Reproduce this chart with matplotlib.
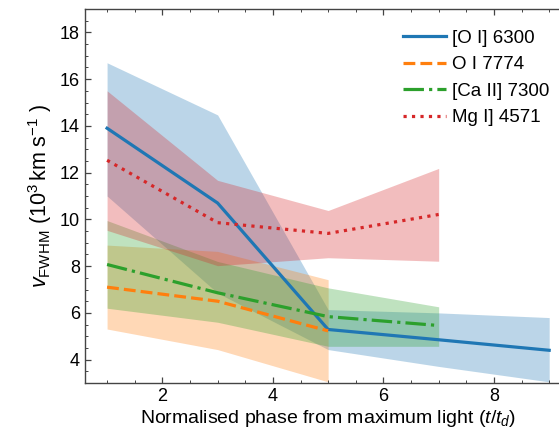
import matplotlib
matplotlib.use("Agg")
import matplotlib.pyplot as plt
from matplotlib.ticker import MultipleLocator

plt.rcParams["font.family"] = ["Liberation Sans", "DejaVu Sans"]
plt.rcParams["mathtext.fontset"] = "custom"
plt.rcParams["mathtext.rm"] = "Liberation Sans"
plt.rcParams["mathtext.it"] = "Liberation Sans:italic"
plt.rcParams["mathtext.bf"] = "Liberation Sans:bold"

# Line widths (10^3 km/s) versus normalised phase, with upper/lower envelopes
oi6300_x = [1, 3, 5, 7, 9]
oi6300_v = [13.9, 10.7, 5.29, 4.85, 4.4]
oi6300_hi = [16.7, 14.47, 6.14, 6.0, 5.8]
oi6300_lo = [11.0, 6.85, 4.43, 3.71, 3.05]

oi7774_x = [1, 3, 5]
oi7774_v = [7.1, 6.5, 5.23]
oi7774_hi = [8.9, 8.63, 7.42]
oi7774_lo = [5.31, 4.43, 3.05]

caii_x = [1, 3, 5, 7]
caii_v = [8.07, 6.86, 5.84, 5.46]
caii_hi = [9.95, 8.2, 7.07, 6.26]
caii_lo = [6.2, 5.6, 4.57, 4.57]

mgi_x = [1, 3, 5, 7]
mgi_v = [12.53, 9.86, 9.4, 10.21]
mgi_hi = [15.5, 11.67, 10.38, 12.18]
mgi_lo = [9.53, 8.02, 8.36, 8.21]

series = [
    ("[O I] 6300", oi6300_x, oi6300_v, oi6300_lo, oi6300_hi, "tab:blue", "-"),
    ("O I 7774", oi7774_x, oi7774_v, oi7774_lo, oi7774_hi, "tab:orange", "--"),
    ("[Ca II] 7300", caii_x, caii_v, caii_lo, caii_hi, "tab:green", "-."),
    ("Mg I] 4571", mgi_x, mgi_v, mgi_lo, mgi_hi, "tab:red", ":"),
]

fig = plt.figure(figsize=(5.59, 4.29), dpi=100)
ax = fig.add_axes([0.152, 0.1072, 0.870, 0.8718])

for label, x, v, lo, hi, color, ls in series:
    ax.fill_between(x, lo, hi, color=color, alpha=0.3, linewidth=0)
for label, x, v, lo, hi, color, ls in series:
    ax.plot(x, v, color=color, linestyle=ls, linewidth=2.3, label=label)

ax.set_xlim(0.6, 9.4)
ax.set_ylim(3, 19)
ax.xaxis.set_major_locator(MultipleLocator(2))
ax.xaxis.set_minor_locator(MultipleLocator(0.5))
ax.yaxis.set_major_locator(MultipleLocator(2))
ax.yaxis.set_minor_locator(MultipleLocator(0.5))
ax.tick_params(which="both", direction="in", top=True, right=True,
               colors="#444444", labelcolor="black", labelsize=13)
ax.tick_params(which="major", length=4, width=0.9)
ax.tick_params(which="minor", length=2, width=0.7)
for sp in ax.spines.values():
    sp.set_color("#444444")
    sp.set_linewidth(1.0)

ax.set_xlabel(r"Normalised phase from maximum light ($t/t_{d}$)", fontsize=14, labelpad=2)
ax.set_ylabel(r"$v_{\mathrm{FWHM}}$ ($10^{3}\,$km s$^{-1}$ )", fontsize=15.5, labelpad=4)

leg = ax.legend(loc="upper left", bbox_to_anchor=(0.62, 0.99), frameon=False,
                fontsize=13.5, handlelength=2.3, handletextpad=0.3, labelspacing=0.5)

fig.savefig("out.png", dpi=100)
